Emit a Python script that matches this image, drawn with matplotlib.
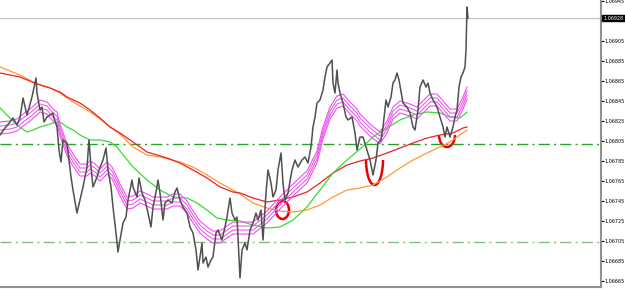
import numpy as np
import matplotlib.pyplot as plt
from matplotlib.patches import Ellipse, Arc

# price path (bar number, price)
bar_x = [0, 5, 10, 13, 17, 20, 23, 27, 32, 36, 37, 40, 42, 44, 47, 53, 54, 57, 59, 61,
         63, 67, 69, 71, 73, 77, 80, 83, 85, 87, 89, 91, 93, 97, 99, 103, 106, 108, 111, 113,
         116, 118, 120, 123, 126, 128, 132, 133, 137, 139, 142, 145, 148, 151, 153, 157, 158, 160, 163, 165,
         168, 172, 175, 177, 180, 183, 187, 190, 193, 196, 198, 200, 202, 203, 206, 208, 211, 213, 216, 218,
         222, 225, 227, 230, 232, 235, 237, 240, 242, 245, 247, 250, 253, 256, 258, 261, 263, 266, 268, 271,
         273, 276, 278, 281, 283, 285, 288, 292, 295, 298, 302, 305, 308, 311, 313, 315, 317, 320, 323, 325,
         327, 330, 332, 333, 335, 337, 338, 340, 343, 346, 348, 352, 355, 357, 360, 363, 367, 370, 373, 376,
         378, 381, 383, 386, 388, 391, 393, 395, 397, 399, 402, 403, 407, 410, 413, 415, 418, 420, 423, 426,
         428, 430, 433, 435, 437, 440, 443, 445, 447, 450, 453, 455, 457, 459, 461, 463, 465, 466, 467, 468]
price = [1.06811, 1.06818, 1.06824, 1.06828, 1.06821, 1.06828, 1.06848, 1.06831, 1.06849, 1.06868,
         1.06853, 1.06836, 1.06839, 1.06824, 1.06829, 1.06833, 1.06828, 1.06819, 1.06796, 1.06784,
         1.06806, 1.06803, 1.06786, 1.06769, 1.06756, 1.06733, 1.06746, 1.06759, 1.06769, 1.06779,
         1.06806, 1.06779, 1.06759, 1.06769, 1.06776, 1.06786, 1.06798, 1.06776, 1.06759, 1.06739,
         1.06713, 1.06694, 1.06706, 1.06723, 1.06729, 1.06746, 1.06766, 1.06759, 1.06749, 1.06768,
         1.06753, 1.06746, 1.06733, 1.06719, 1.06739, 1.06759, 1.06766, 1.06753, 1.06726, 1.06743,
         1.06746, 1.06743, 1.06754, 1.06758, 1.06746, 1.06739, 1.06733, 1.06719, 1.06713, 1.06696,
         1.06676, 1.06689, 1.06703, 1.06683, 1.06689, 1.06679, 1.06686, 1.06689, 1.06713, 1.06716,
         1.06706, 1.06719, 1.06729, 1.06748, 1.06733, 1.06726, 1.06729, 1.06668, 1.06696, 1.06703,
         1.06696, 1.06716, 1.06723, 1.06733, 1.06726, 1.06736, 1.06706, 1.06753, 1.06776, 1.06763,
         1.06749, 1.06756, 1.06776, 1.06793, 1.06763, 1.06746, 1.06753, 1.06776, 1.06786, 1.06779,
         1.06786, 1.06789, 1.06783, 1.06799, 1.06819, 1.06829, 1.06843, 1.06846, 1.06856, 1.06869,
         1.06879, 1.06883, 1.06886, 1.06863, 1.06853, 1.06876, 1.06863, 1.06853, 1.06843, 1.06829,
         1.06826, 1.06829, 1.06813, 1.06796, 1.06809, 1.06809, 1.06796, 1.06786, 1.06771, 1.06786,
         1.06803, 1.06806, 1.06819, 1.06846, 1.06839, 1.06849, 1.06863, 1.06866, 1.06873, 1.06866,
         1.06849, 1.06843, 1.06839, 1.06833, 1.06819, 1.06816, 1.06836, 1.06859, 1.06866, 1.06859,
         1.06863, 1.06853, 1.06846, 1.06843, 1.06839, 1.06829, 1.06819, 1.06809, 1.06819, 1.06809,
         1.06819, 1.06829, 1.06836, 1.06859, 1.06869, 1.06873, 1.06879, 1.06896, 1.06939, 1.06928]

# fast MA (centre of the magenta ribbon)
ma_fast_x = [0, 10, 17, 23, 30, 37, 40, 47, 53, 57, 60, 67, 73, 80, 87, 90, 95, 100, 107, 112,
             117, 120, 127, 133, 140, 147, 153, 160, 167, 173, 180, 187, 193, 200, 207, 213, 220, 227, 233, 240,
             253, 267, 280, 293, 307, 317, 323, 330, 337, 343, 350, 357, 360, 370, 380, 387, 393, 400, 410, 417,
             423, 430, 437, 443, 450, 457, 463, 467]
ma_fast = [1.06818, 1.06819, 1.06821, 1.06826, 1.06831, 1.06837, 1.06840, 1.06838, 1.06831, 1.06828,
           1.06816, 1.06796, 1.06786, 1.06776, 1.06776, 1.06779, 1.06776, 1.06771, 1.06778, 1.06773,
           1.06763, 1.06756, 1.06743, 1.06744, 1.06749, 1.06746, 1.06743, 1.06743, 1.06743, 1.06746,
           1.06746, 1.06739, 1.06729, 1.06719, 1.06713, 1.06709, 1.06709, 1.06714, 1.06718, 1.06718,
           1.06718, 1.06729, 1.06743, 1.06756, 1.06769, 1.06789, 1.06813, 1.06833, 1.06844, 1.06846,
           1.06838, 1.06831, 1.06826, 1.06816, 1.06808, 1.06819, 1.06833, 1.06839, 1.06836, 1.06833,
           1.06839, 1.06846, 1.06846, 1.06839, 1.06831, 1.06831, 1.06843, 1.06853]
ribbon_offsets = [-0.00006, -0.00002, 0.00002, 0.00006]

ma_green_x = [0, 10, 17, 27, 33, 40, 47, 53, 60, 67, 73, 80, 90, 100, 110, 117, 120, 133, 147, 160,
              173, 187, 197, 207, 217, 227, 240, 253, 267, 280, 293, 307, 320, 333, 347, 360, 373, 387, 400, 413,
              427, 440, 450, 460, 467]
ma_green = [1.06838, 1.06828, 1.06821, 1.06814, 1.06816, 1.06819, 1.06821, 1.06823, 1.06824, 1.06819,
            1.06816, 1.06811, 1.06806, 1.06806, 1.06804, 1.06799, 1.06795, 1.06779, 1.06766, 1.06756,
            1.06749, 1.06748, 1.06743, 1.06736, 1.06728, 1.06726, 1.06725, 1.06721, 1.06718, 1.06719,
            1.06726, 1.06739, 1.06756, 1.06773, 1.06786, 1.06797, 1.06809, 1.06818, 1.06826, 1.06831,
            1.06834, 1.06833, 1.06829, 1.06828, 1.06834]

ma_red_x = [0, 20, 37, 50, 60, 67, 80, 90, 100, 110, 120, 133, 147, 167, 180, 193, 207, 220, 233, 240,
            253, 267, 280, 293, 307, 320, 333, 347, 360, 373, 387, 400, 413, 427, 440, 453, 463, 467]
ma_red = [1.06873, 1.06869, 1.06862, 1.06858, 1.06854, 1.06849, 1.06843, 1.06836, 1.06828, 1.06819,
          1.06813, 1.06804, 1.06794, 1.06788, 1.06783, 1.06776, 1.06768, 1.06759, 1.06754, 1.06753,
          1.06748, 1.06744, 1.06746, 1.06749, 1.06754, 1.06763, 1.06773, 1.06781, 1.06785, 1.06788,
          1.06793, 1.06798, 1.06803, 1.06808, 1.06811, 1.06813, 1.06818, 1.06819]

ma_orange_x = [0, 20, 35, 50, 60, 70, 80, 90, 100, 110, 120, 133, 147, 160, 180, 193, 207, 220, 233, 240,
               253, 267, 280, 293, 307, 320, 333, 347, 360, 373, 387, 400, 413, 427, 440, 450, 460, 467]
ma_orange = [1.06879, 1.06871, 1.06863, 1.06858, 1.06853, 1.06846, 1.06840, 1.06834, 1.06827, 1.06819,
             1.06812, 1.06799, 1.06791, 1.06789, 1.06784, 1.06779, 1.06771, 1.06763, 1.06756, 1.06752,
             1.06743, 1.06738, 1.06735, 1.06734, 1.06736, 1.06741, 1.06749, 1.06756, 1.06758, 1.06761,
             1.06769, 1.06778, 1.06786, 1.06793, 1.06799, 1.06804, 1.06811, 1.06816]

level_upper = 1.06802
level_lower = 1.06704
bid = 1.06928
tick_prices = [1.06945, 1.06905, 1.06885, 1.06865, 1.06845, 1.06825, 1.06805, 1.06785,
               1.06765, 1.06745, 1.06725, 1.06705, 1.06685, 1.06665]

fig = plt.figure(figsize=(6.25, 2.89), dpi=100)
ax = fig.add_axes([0, 2 / 289, 601 / 625, 287 / 289])

# horizontal levels
ax.axhline(bid, color='#c8c8c8', lw=1)
ax.axhline(level_upper, color='#2ca02c', lw=1, dashes=(8, 3, 1.5, 3))
ax.axhline(level_lower, color='#7cc47c', lw=1, dashes=(8, 3, 1.5, 3))

# moving averages
ax.plot(ma_orange_x, ma_orange, color='#ff9933', lw=0.9)
ax.plot(ma_red_x, ma_red, color='#ee2222', lw=0.9)
ax.plot(ma_green_x, ma_green, color='#33dd33', lw=0.9)
ribbon_colors = ['#ff44ff', '#e066e0', '#e066e0', '#ff44ff']
for off, c in zip(ribbon_offsets, ribbon_colors):
    ax.plot(ma_fast_x, np.array(ma_fast) + off, color=c, lw=0.8)

# price bars
ax.plot(bar_x, price, color='#505050', lw=1.1)

# hand drawn marks
ax.add_patch(Ellipse((282.5, 1.06736), 13, 0.00018, fill=False, color='#ee0000', lw=1.8))
ax.add_patch(Arc((374.5, 1.06786), 17, 0.00050, theta1=180, theta2=360, color='#ee0000', lw=1.8))
ax.add_patch(Arc((447, 1.06811), 16, 0.00024, theta1=180, theta2=360, color='#ee0000', lw=1.8))

ax.set_xlim(0, 601)
ax.set_ylim(1.06659, 1.06946)
ax.set_xticks([])
ax.yaxis.tick_right()
ax.set_yticks(tick_prices)
ax.set_yticklabels([f'{p:.5f}' for p in tick_prices])
ax.tick_params(axis='y', direction='out', length=2, width=0.8, pad=0.8,
               labelsize=3.5, colors='black')
for s in ['left', 'top']:
    ax.spines[s].set_visible(False)
ax.spines['right'].set_color('#909090')
ax.spines['right'].set_linewidth(1.5)
ax.spines['bottom'].set_color('#909090')
ax.spines['bottom'].set_linewidth(1.5)

ax.text(1.004, bid, f'{bid:.5f}', transform=ax.get_yaxis_transform(),
        fontsize=3.5, color='white', va='center', ha='left',
        bbox=dict(boxstyle='square,pad=0.2', fc='black', ec='black'))

plt.savefig('out.png', dpi=100)
